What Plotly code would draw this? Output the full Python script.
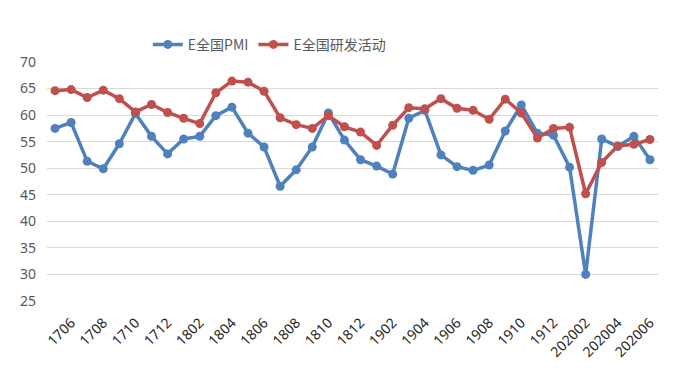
import plotly.graph_objects as go

categories = ['1705', '1706', '1707', '1708', '1709', '1710', '1711', '1712',
              '1801', '1802', '1803', '1804', '1805', '1806', '1807', '1808', '1809', '1810', '1811', '1812',
              '1901', '1902', '1903', '1904', '1905', '1906', '1907', '1908', '1909', '1910', '1911', '1912',
              '202001', '202002', '202003', '202004', '202005', '202006']
pmi = [57.5, 58.6, 51.3, 49.9, 54.6, 60.3, 56.0, 52.7, 55.5, 56.0, 59.9, 61.5, 56.6,
       54.0, 46.6, 49.7, 54.0, 60.4, 55.3, 51.6, 50.4, 48.9, 59.4, 60.9, 52.5, 50.3,
       49.6, 50.6, 57.0, 61.9, 56.6, 56.2, 50.2, 30.0, 55.5, 54.1, 56.0, 51.6]
rnd = [64.6, 64.8, 63.3, 64.7, 63.1, 60.6, 62.0, 60.5, 59.4, 58.4, 64.2, 66.4, 66.2,
       64.5, 59.5, 58.2, 57.5, 59.9, 57.8, 56.8, 54.3, 58.1, 61.4, 61.2, 63.1, 61.3,
       60.9, 59.2, 63.0, 60.4, 55.7, 57.5, 57.7, 45.2, 51.1, 54.2, 54.5, 55.4]
tick_labels = categories[1::2]
y_ticks = [25, 30, 35, 40, 45, 50, 55, 60, 65, 70]

fig = go.Figure()
fig.add_trace(go.Scatter(x=categories, y=pmi, name='E全国PMI', mode='lines+markers',
                         line=dict(color='#4F81BD', width=3.5),
                         marker=dict(color='#4F81BD', size=9)))
fig.add_trace(go.Scatter(x=categories, y=rnd, name='E全国研发活动', mode='lines+markers',
                         line=dict(color='#C0504D', width=3.5),
                         marker=dict(color='#C0504D', size=9)))

# page body has an 8px default margin, so the figure is sized/margined to compensate
fig.update_layout(
    width=676, height=363,
    margin=dict(l=39, r=26, t=54, b=70),
    paper_bgcolor='white', plot_bgcolor='white',
    font=dict(family='Noto Sans CJK SC, Noto Sans, sans-serif', color='#595959'),
    showlegend=True,
    legend=dict(orientation='h', x=0.165, xanchor='left', y=1.072, yanchor='middle',
                font=dict(size=14, color='#595959'), itemwidth=30,
                bgcolor='rgba(0,0,0,0)'),
    xaxis=dict(type='category', range=[-0.5, len(categories) - 0.5],
               tickmode='array', tickvals=tick_labels, ticktext=tick_labels,
               tickangle=-45, showgrid=False, zeroline=False, showline=False,
               ticks='', automargin=False, ticklabelstandoff=10,
               tickfont=dict(family='Noto Sans, sans-serif', size=14, color='#262626')),
    yaxis=dict(range=[25, 70], tickmode='array', tickvals=y_ticks,
               showgrid=True, gridcolor='#D9D9D9', gridwidth=1, zeroline=False,
               showline=False, ticks='', automargin=False, ticklabelstandoff=10,
               tickfont=dict(family='Noto Sans, sans-serif', size=14, color='#595959')),
)

fig.write_html('out.html')
